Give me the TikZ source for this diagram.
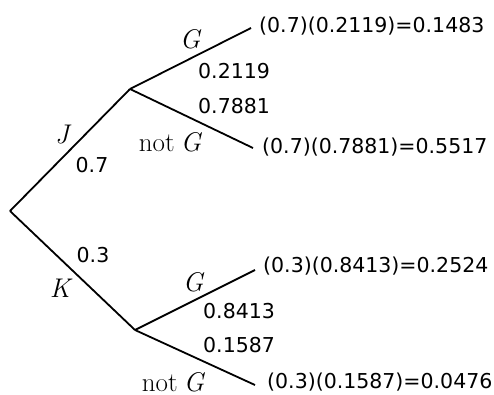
\documentclass[tikz,border=0pt]{standalone}
\usepackage{fontspec}
\newfontfamily\numfont{DejaVu Sans}
\begin{document}
\begin{tikzpicture}[x=1pt,y=-1pt,
  branch/.style={line width=1.8pt},
  num/.style={font=\numfont\fontsize{20.5}{24}\selectfont, inner sep=0pt},
  res/.style={num, anchor=west},
  lbl/.style={font=\fontsize{27}{31}\selectfont, inner sep=0pt}]
\useasboundingbox (0,0) rectangle (494,395);
\coordinate (root) at (10,211);
\coordinate (J) at (130,89);
\coordinate (K) at (135,330);
\node[res] (r1) at (259,26) {(0.7)(0.2119)=0.1483};
\node[res] (r2) at (262,147) {(0.7)(0.7881)=0.5517};
\node[res] (r3) at (263,266) {(0.3)(0.8413)=0.2524};
\node[res] (r4) at (267,382) {(0.3)(0.1587)=0.0476};
\coordinate (e1) at (251,28);
\coordinate (e2) at (253,148);
\coordinate (e3) at (255,270);
\coordinate (e4) at (255,385);
\draw[branch] (root) -- (J);
\draw[branch] (root) -- (K);
\draw[branch] (J) -- (e1);
\draw[branch] (J) -- (e2);
\draw[branch] (K) -- (e3);
\draw[branch] (K) -- (e4);
\node[lbl] (lJ) at (62,135) {\itshape J};
\node[num] (p07) at (92,165) {0.7};
\node[num] (p03) at (93,255) {0.3};
\node[lbl] (lK) at (60,288) {\itshape K};
\node[lbl] (lG1) at (190,39) {\itshape G};
\node[num,anchor=west] (p1) at (198,71) {0.2119};
\node[num,anchor=west] (p2) at (198,106) {0.7881};
\node[lbl] (lN1) at (170,142) {not\hspace{6pt}\itshape G};
\node[lbl] (lG2) at (193,282) {\itshape G};
\node[num,anchor=west] (p3) at (203,311) {0.8413};
\node[num,anchor=west] (p4) at (203,345) {0.1587};
\node[lbl] (lN2) at (173,382) {not\hspace{6pt}\itshape G};
\end{tikzpicture}
\end{document}
